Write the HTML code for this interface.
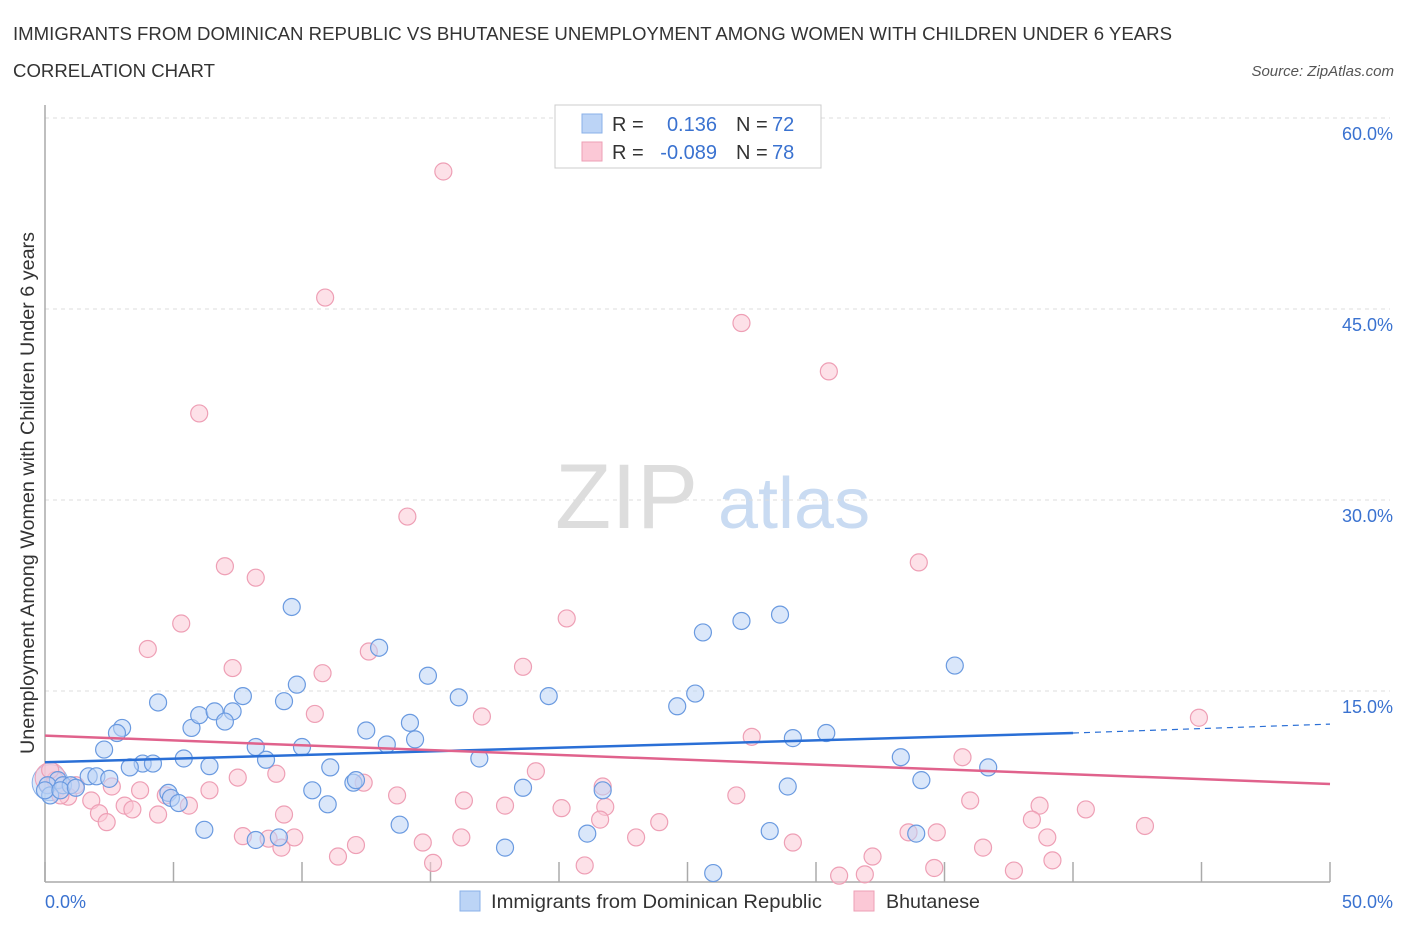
<!DOCTYPE html>
<html><head><meta charset="utf-8"><style>
body{margin:0;background:#fff;font-family:"Liberation Sans",sans-serif;}
svg text{font-family:"Liberation Sans",sans-serif;}
</style></head><body>
<svg id="chart" width="1406" height="930" xmlns="http://www.w3.org/2000/svg">
<text x="13" y="40" font-size="18.5" fill="#333" textLength="1159" lengthAdjust="spacingAndGlyphs">IMMIGRANTS FROM DOMINICAN REPUBLIC VS BHUTANESE UNEMPLOYMENT AMONG WOMEN WITH CHILDREN UNDER 6 YEARS</text>
<text x="13" y="77" font-size="18.5" fill="#333" textLength="202" lengthAdjust="spacingAndGlyphs">CORRELATION CHART</text>
<text x="1394" y="76" font-size="15" fill="#555" text-anchor="end" font-style="italic">Source: ZipAtlas.com</text>
<g>
<text x="555" y="528" font-size="92" fill="#ddd" font-family="Liberation Serif,serif">ZIP</text>
<text x="718" y="528" font-size="72" fill="#c9dbf2">atlas</text>
</g>
<g id="grid"></g>
<g id="axes"></g>
<g id="pts"></g>
<g id="trends"></g>
<text transform="translate(34,493) rotate(-90)" font-size="19" fill="#333" text-anchor="middle" textLength="522" lengthAdjust="spacingAndGlyphs">Unemployment Among Women with Children Under 6 years</text>
<g>
<rect x="555" y="105" width="266" height="63" fill="#fff" stroke="#ccc"/>
<rect x="582" y="114" width="20" height="19" fill="#bcd4f6" stroke="#8ab0e8"/>
<rect x="582" y="142" width="20" height="19" fill="#fbc8d6" stroke="#ee9fb5"/>
<text x="612" y="131" font-size="20" fill="#333">R =</text><text x="717" y="131" font-size="20" fill="#3a72d0" text-anchor="end">0.136</text>
<text x="736" y="131" font-size="20" fill="#333">N =</text><text x="772" y="131" font-size="20" fill="#3a72d0">72</text>
<text x="612" y="159" font-size="20" fill="#333">R =</text><text x="717" y="159" font-size="20" fill="#3a72d0" text-anchor="end">-0.089</text>
<text x="736" y="159" font-size="20" fill="#333">N =</text><text x="772" y="159" font-size="20" fill="#3a72d0">78</text>
</g>
<g>
<rect x="460" y="891" width="20" height="20" fill="#bcd4f6" stroke="#8ab0e8"/>
<text x="491" y="908" font-size="19.5" fill="#333" textLength="331" lengthAdjust="spacingAndGlyphs">Immigrants from Dominican Republic</text>
<rect x="854" y="891" width="20" height="20" fill="#fbc8d6" stroke="#ee9fb5"/>
<text x="886" y="908" font-size="19.5" fill="#333" textLength="94" lengthAdjust="spacingAndGlyphs">Bhutanese</text>
</g>
</svg>
<script>
const blueX=[9.6,13.0,25.6,27.1,28.6,35.4,4.4,7.7,9.8,14.9,16.1,19.6,25.3,24.6,3.0,2.8,5.7,6.0,6.6,7.3,7.0,9.3,12.5,14.2,2.3,8.2,8.6,10.0,13.3,14.4,16.9,29.1,30.4,33.3,5.4,6.4,3.8,4.2,3.3,1.7,2.0,2.5,0.5,0.1,0.7,1.0,11.1,12.0,12.1,18.6,21.7,28.9,34.1,36.7,4.8,4.9,5.2,11.0,10.4,13.8,21.1,17.9,6.2,8.2,9.1,28.2,33.9,26.0,0.2,0.0,0.6,1.2];
const blueY=[21.6,18.4,19.6,20.5,21.0,17.0,14.1,14.6,15.5,16.2,14.5,14.6,14.8,13.8,12.1,11.7,12.1,13.1,13.4,13.4,12.6,14.2,11.9,12.5,10.4,10.6,9.6,10.6,10.8,11.2,9.7,11.3,11.7,9.8,9.7,9.1,9.3,9.3,9.0,8.3,8.3,8.1,8.0,7.6,7.6,7.6,9.0,7.8,8.0,7.4,7.2,7.5,8.0,9.0,7.0,6.6,6.2,6.1,7.2,4.5,3.8,2.7,4.1,3.3,3.5,4.0,3.8,0.7,6.8,7.2,7.2,7.4];
const pinkX=[15.5,10.9,27.1,30.5,6.0,14.1,7.0,8.2,34.0,20.3,5.3,4.0,7.3,10.8,12.6,18.6,44.9,10.5,17.0,27.5,35.7,9.0,7.5,19.1,12.4,6.4,0.4,1.2,2.6,3.7,4.7,5.6,1.8,0.9,0.6,2.1,2.4,3.1,3.4,4.4,9.3,13.7,16.3,17.9,20.1,21.7,21.8,21.6,26.9,36.0,38.7,38.4,40.5,42.8,23.9,23.0,33.6,34.7,39.0,7.7,8.7,9.2,9.7,12.1,14.7,16.2,21.0,15.1,11.4,29.1,32.2,34.6,36.5,37.7,39.2,30.9,31.9,0.2];
const pinkY=[55.8,45.9,43.9,40.1,36.8,28.7,24.8,23.9,25.1,20.7,20.3,18.3,16.8,16.4,18.1,16.9,12.9,13.2,13.0,11.4,9.8,8.5,8.2,8.7,7.8,7.2,8.0,7.6,7.5,7.2,6.8,6.0,6.4,6.7,6.8,5.4,4.7,6.0,5.7,5.3,5.3,6.8,6.4,6.0,5.8,7.5,5.9,4.9,6.8,6.4,6.0,4.9,5.7,4.4,4.7,3.5,3.9,3.9,3.5,3.6,3.4,2.7,3.5,2.9,3.1,3.5,1.3,1.5,2.0,3.1,2.0,1.1,2.7,0.9,1.7,0.5,0.6,8.8];
const blueTrend=[9.4,11.7,12.4]; // at x=0, 40, 50
const pinkTrend=[11.5,7.7]; // at x=0, 50
const yTicks=[15,30,45,60];
const yTickLabels=["15.0%","30.0%","45.0%","60.0%"];
const xTickVals=[0,5,10,15,20,25,30,35,40,45,50];
const xLabels=["0.0%","50.0%"];

const NS="http://www.w3.org/2000/svg";
const X=v=>45+v*25.7, Y=v=>882-v*12.733;
function mk(tag,attrs,parent){const e=document.createElementNS(NS,tag);for(const k in attrs)e.setAttribute(k,attrs[k]);parent.appendChild(e);return e;}
const grid=document.getElementById('grid'),axes=document.getElementById('axes'),pts=document.getElementById('pts'),tr=document.getElementById('trends');
yTicks.forEach((t,i)=>{
 const l=mk('line',{x1:45,x2:1390,y1:Y(t),y2:Y(t),stroke:'#ddd','stroke-dasharray':'4,4'},grid);
 
 
 const tx=mk('text',{x:1393,y:Y(t)+22,'font-size':18,fill:'#3a72d0','text-anchor':'end'},axes);
 tx.textContent=yTickLabels[i];
 
 
});
const ax=mk('line',{x1:45,x2:45,y1:105,y2:882,stroke:'#aaa','stroke-width':1.5},axes);


const bx=mk('line',{x1:45,x2:1330,y1:882,y2:882,stroke:'#aaa','stroke-width':1.5},axes);


xTickVals.forEach(v=>{
 const t=mk('line',{x1:X(v),x2:X(v),y1:862,y2:882,stroke:'#aaa','stroke-width':1.5},axes);
 
 
});
const xl0=mk('text',{x:45,y:908,'font-size':18,fill:'#3a72d0'},axes);xl0.textContent=xLabels[0];


const xl1=mk('text',{x:1393,y:908,'font-size':18,fill:'#3a72d0','text-anchor':'end'},axes);xl1.textContent=xLabels[1];


function dots(xs,ys,fill,stroke,name){xs.forEach((x,i)=>{
 const c=mk('circle',{cx:X(x),cy:Y(ys[i]),r:8.5,fill:fill,'fill-opacity':0.55,stroke:stroke,'stroke-width':1.2},pts);
 
 
});}
const big1=mk('circle',{cx:X(0.2),cy:Y(7.8),r:18,fill:'#bcd4f6','fill-opacity':0.5,stroke:'#8ab0e8'},pts);


const big2=mk('circle',{cx:X(0.2),cy:Y(8.2),r:15,fill:'#fbc8d6','fill-opacity':0.5,stroke:'#ee9fb5'},pts);


dots(pinkX,pinkY,'#fbc8d6','#ee9fb5','point-bhutanese');
dots(blueX,blueY,'#bcd4f6','#6a9ae0','point-dominican');
const b1=mk('line',{x1:X(0),y1:Y(blueTrend[0]),x2:X(40),y2:Y(blueTrend[1]),stroke:'#2a6fd6','stroke-width':2.5},tr);


const b2=mk('line',{x1:X(40),y1:Y(blueTrend[1]),x2:X(50),y2:Y(blueTrend[2]),stroke:'#2a6fd6','stroke-width':1.2,'stroke-dasharray':'6,5'},tr);


const p1=mk('line',{x1:X(0),y1:Y(pinkTrend[0]),x2:X(50),y2:Y(pinkTrend[1]),stroke:'#e0628c','stroke-width':2.5},tr);


</script>
</body></html>
